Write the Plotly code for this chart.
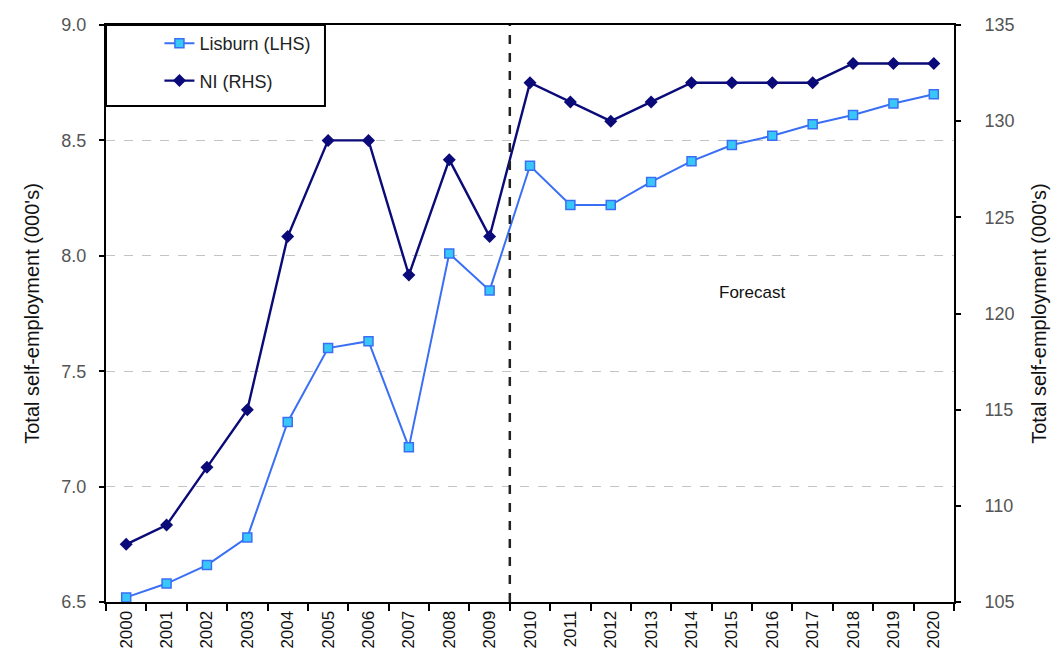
import plotly.graph_objects as go

# Years on the category axis
years = [str(y) for y in range(2000, 2021)]

# Total self-employment, thousands
lisburn = [6.52, 6.58, 6.66, 6.78, 7.28, 7.60, 7.63, 7.17, 8.01, 7.85,
           8.39, 8.22, 8.22, 8.32, 8.41, 8.48, 8.52, 8.57, 8.61, 8.66, 8.70]
ni = [108, 109, 112, 115, 124, 129, 129, 122, 128, 124,
      132, 131, 130, 131, 132, 132, 132, 132, 133, 133, 133]

left_ticks = [6.5, 7.0, 7.5, 8.0, 8.5, 9.0]
right_ticks = [105, 110, 115, 120, 125, 130, 135]

FONT = "Liberation Sans, Arial, sans-serif"

fig = go.Figure()

fig.add_trace(go.Scatter(
    x=years, y=lisburn, name="Lisburn (LHS)", mode="lines+markers",
    line=dict(color="#3a6ff5", width=2),
    marker=dict(symbol="square", size=9, color="#38c8f8",
                line=dict(color="#3a6ff5", width=1.5)),
    yaxis="y", legendgroup="a",
))
fig.add_trace(go.Scatter(
    x=years, y=ni, name="NI (RHS)", mode="lines+markers",
    line=dict(color="#0a0a78", width=2.4),
    marker=dict(symbol="diamond", size=10, color="#0a0a78"),
    yaxis="y2", legendgroup="b",
))

# Boundary between actual and forecast years
fig.add_shape(type="line", xref="x", yref="paper", x0=9.5, x1=9.5, y0=0, y1=1,
              line=dict(color="#222222", width=2.5, dash="dash"))

# Legend frame
fig.add_shape(type="rect", xref="paper", yref="paper",
              x0=0, x1=(326 - 106) / 852, y0=1 - (106 - 25) / 577, y1=1,
              line=dict(color="black", width=2), fillcolor="white", layer="below")

fig.add_annotation(x=15.5, y=7.84, xref="x", yref="y", text="Forecast",
                   showarrow=False, font=dict(family=FONT, size=17, color="#111111"))

fig.update_layout(
    width=1059, height=672,
    margin=dict(l=106, r=101, t=25, b=70),
    paper_bgcolor="white", plot_bgcolor="white",
    font=dict(family=FONT, color="#111111"),
    showlegend=True,
    legend=dict(x=0.063, y=1.0, xanchor="left", yanchor="top",
                bgcolor="rgba(0,0,0,0)", borderwidth=0,
                traceorder="grouped", tracegroupgap=11,
                font=dict(family=FONT, size=18, color="#222222")),
    xaxis=dict(
        type="category", range=[-0.5, 20.5],
        tickson="boundaries", ticks="outside", ticklen=7, tickwidth=2, tickcolor="black",
        showline=True, linecolor="black", linewidth=2, mirror=True,
        showgrid=False, tickangle=-90,
        tickfont=dict(family=FONT, size=17, color="#111111"),
    ),
    yaxis=dict(
        range=[6.5, 9.0], tickvals=left_ticks, tickformat=".1f",
        ticks="outside", ticklen=5, tickwidth=2, tickcolor="black",
        showline=True, linecolor="black", linewidth=2,
        showgrid=True, gridcolor="#c4c4c4", griddash="dash", gridwidth=1.2,
        zeroline=False, ticklabelstandoff=9,
        tickfont=dict(family=FONT, size=18, color="#555555"),
        title=dict(text="Total self-employment (000's)", standoff=16,
                   font=dict(family=FONT, size=20, color="#111111")),
    ),
    yaxis2=dict(
        overlaying="y", side="right",
        range=[105, 135], tickvals=right_ticks,
        ticks="outside", ticklen=5, tickwidth=2, tickcolor="black",
        showline=True, linecolor="black", linewidth=2,
        showgrid=False, zeroline=False, ticklabelstandoff=20,
        tickfont=dict(family=FONT, size=18, color="#555555"),
        title=dict(text="Total self-employment (000's)", standoff=18,
                   font=dict(family=FONT, size=20, color="#111111")),
    ),
)

fig.write_html("out.html")
